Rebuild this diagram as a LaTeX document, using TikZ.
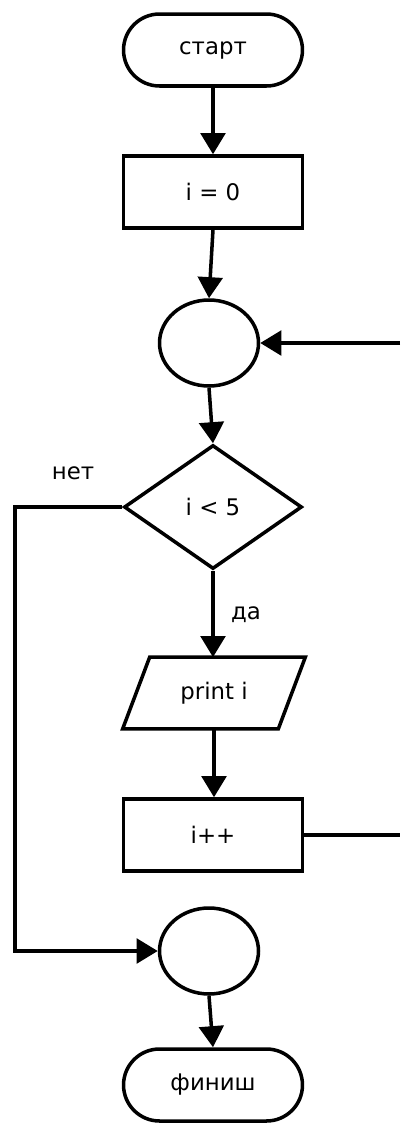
\documentclass[tikz,border=0pt]{standalone}
\usepackage{fontspec}
\setmainfont{DejaVu Sans}
\usetikzlibrary{arrows.meta,shapes.geometric}
\begin{document}
\begin{tikzpicture}[x=0.02cm,y=-0.02cm,
  font=\fontsize{13}{15}\selectfont,
  base/.style={line width=2pt, inner sep=0pt},
  term/.style={base, draw, rectangle, rounded corners=0.72cm, minimum width=3.58cm, minimum height=1.44cm},
  proc/.style={base, draw, rectangle, minimum width=3.58cm, minimum height=1.44cm},
  conn/.style={base, draw, ellipse, minimum width=1.98cm, minimum height=1.72cm},
  decis/.style={base, draw, diamond, minimum width=3.56cm, minimum height=2.48cm},
  iobox/.style={inner sep=0pt, minimum width=3.1cm, minimum height=1.42cm},
  flow/.style={line width=2pt, -{Triangle[length=12pt,width=14pt]}},
  plain/.style={line width=2pt},
  lbl/.style={inner sep=0pt}]
\useasboundingbox (0,0) rectangle (400,1123);
\node[term] (start) at (213,50) {старт};
\node[proc] (i0) at (213,192) {i = 0};
\node[conn] (c1) at (209,343) {};
\node[decis] (d) at (213,507) {i < 5};
\node[iobox] (p) at (214,693) {print i};
\draw[line width=2pt, line join=miter] ([xshift=0.27cm]p.north west) -- ([xshift=0.27cm]p.north east)
  -- ([xshift=-0.27cm]p.south east) -- ([xshift=-0.27cm]p.south west) -- cycle;
\node[proc] (inc) at (213,835) {i++};
\node[conn] (c2) at (209,951) {};
\node[term] (fin) at (213,1085) {финиш};
\node[lbl] (no) at (73,473) {нет};
\node[lbl] (yes) at (246,615) {да};
\coordinate (backin) at (400,343);
\coordinate (backout) at (400,835);
\coordinate (leftx) at (15,507);
\draw[flow] (start.south) -- (i0.north);
\draw[flow] (i0.south) -- (c1.north);
\draw[flow] (backin) -- (c1.east);
\draw[flow] (c1.south) -- (d.north);
\draw[flow] (d.south) -- (d.south |- p.north);
\draw[flow] (p.south) -- (p.south |- inc.north);
\draw[plain] (inc.east) -- (backout);
\draw[flow] (d.west) -- (leftx) |- (c2.west);
\draw[flow] (c2.south) -- (fin.north);
\end{tikzpicture}
\end{document}
